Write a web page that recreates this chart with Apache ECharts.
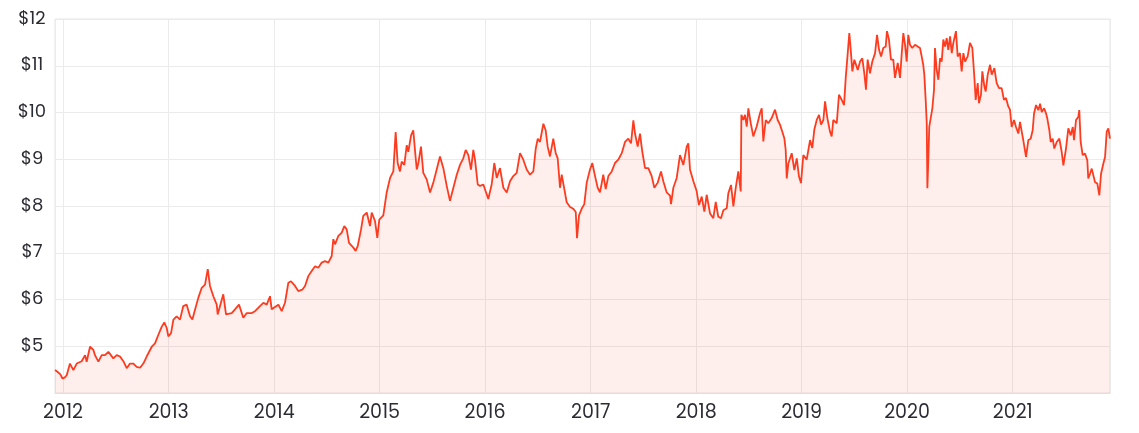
<!DOCTYPE html>
<html><head><meta charset="utf-8">
<script src="https://cdn.jsdelivr.net/npm/echarts@6/dist/echarts.min.js"></script>
<style>html,body{margin:0;padding:0;background:#fff}#c{width:1139px;height:433px}</style>
</head><body><div id="c"></div>
<script>
// observation times as decimal years
const years = [
2011.924,2011.950,2011.975,2011.995,2012.015,2012.035,2012.050,2012.066,2012.098,2012.130,
2012.177,2012.209,2012.224,2012.256,2012.288,2012.303,2012.335,2012.367,2012.398,2012.430,
2012.446,2012.477,2012.509,2012.540,2012.572,2012.604,2012.635,2012.667,2012.698,2012.730,
2012.761,2012.793,2012.841,2012.872,2012.903,2012.936,2012.960,2012.983,2012.998,2013.024,
2013.046,2013.077,2013.109,2013.140,2013.172,2013.204,2013.226,2013.251,2013.283,2013.315,
2013.346,2013.372,2013.393,2013.425,2013.457,2013.466,2013.519,2013.545,2013.599,2013.630,
2013.668,2013.709,2013.741,2013.789,2013.820,2013.867,2013.899,2013.931,2013.962,2013.978,
2014.041,2014.073,2014.104,2014.136,2014.161,2014.199,2014.230,2014.268,2014.294,2014.325,
2014.357,2014.389,2014.420,2014.452,2014.483,2014.515,2014.547,2014.562,2014.578,2014.610,
2014.642,2014.666,2014.689,2014.711,2014.752,2014.774,2014.793,2014.825,2014.846,2014.879,
2014.910,2014.926,2014.957,2014.979,2014.998,
2015.036,2015.068,2015.100,2015.116,2015.131,2015.153,2015.172,2015.194,2015.210,2015.235,
2015.258,2015.273,2015.299,2015.320,2015.336,2015.353,2015.368,2015.393,2015.415,2015.447,
2015.479,2015.510,2015.542,2015.573,2015.605,2015.637,2015.668,2015.700,2015.732,2015.763,
2015.794,2015.817,2015.842,2015.867,2015.889,2015.905,2015.931,2015.953,2015.984,2016.016,
2016.031,2016.063,2016.088,2016.111,2016.142,2016.174,2016.206,2016.237,2016.268,2016.300,
2016.332,2016.363,2016.395,2016.427,2016.458,2016.481,2016.500,
2016.521,2016.553,2016.575,2016.594,2016.616,2016.647,2016.670,2016.689,2016.711,2016.727,
2016.752,2016.774,2016.806,2016.837,2016.860,2016.872,2016.891,2016.916,2016.941,2016.964,
2016.995,2017.017,2017.043,2017.068,2017.090,2017.121,2017.144,2017.169,2017.201,2017.232,
2017.263,2017.296,2017.327,2017.358,2017.384,2017.406,2017.422,2017.447,2017.469,2017.491,
2017.517,2017.548,2017.580,2017.605,2017.637,2017.668,2017.690,2017.722,2017.754,2017.763,
2017.785,2017.817,2017.848,2017.880,2017.912,2017.927,2017.943,2017.975,2018.006,
2018.028,2018.054,2018.079,2018.101,2018.133,2018.164,2018.187,2018.211,2018.237,2018.259,
2018.291,2018.306,2018.332,2018.354,2018.376,2018.401,2018.424,2018.430,2018.448,2018.464,
2018.481,2018.496,2018.519,2018.543,2018.575,2018.607,2018.623,2018.638,2018.661,2018.685,
2018.717,2018.749,2018.774,2018.796,2018.818,2018.837,2018.850,2018.860,2018.875,2018.907,
2018.932,2018.955,2018.976,2018.995,2019.017,2019.049,2019.081,2019.102,2019.121,2019.144,
2019.166,2019.185,2019.207,2019.223,2019.245,2019.270,2019.286,2019.301,2019.334,2019.355,
2019.381,2019.403,2019.419,2019.438,2019.453,2019.469,2019.482,2019.501,
2019.533,2019.555,2019.576,2019.595,2019.611,2019.627,2019.649,2019.671,2019.697,2019.716,
2019.735,2019.754,2019.775,2019.798,2019.810,2019.829,2019.848,2019.870,2019.886,2019.912,
2019.934,2019.950,2019.965,2019.981,2019.997,2020.012,2020.028,2020.050,2020.076,2020.101,
2020.123,2020.139,2020.154,2020.164,2020.177,2020.187,2020.193,2020.202,2020.211,2020.227,
2020.240,2020.256,2020.265,2020.281,2020.297,2020.313,2020.329,2020.344,2020.360,2020.376,
2020.391,2020.408,2020.424,2020.439,2020.464,2020.480,2020.502,2020.518,2020.534,2020.550,
2020.575,2020.597,2020.619,2020.638,2020.651,2020.670,2020.682,2020.701,2020.714,2020.733,
2020.746,2020.765,2020.787,2020.803,2020.828,2020.850,2020.872,2020.897,2020.919,2020.938,
2020.960,2020.976,
2020.992,2021.014,2021.033,2021.055,2021.071,2021.087,2021.102,2021.128,2021.150,2021.172,
2021.191,2021.204,2021.223,2021.245,2021.261,2021.277,2021.299,2021.318,2021.330,2021.349,
2021.362,2021.381,2021.396,2021.419,2021.444,2021.466,2021.482,2021.507,2021.529,2021.552,
2021.571,2021.583,2021.602,2021.624,2021.633,2021.646,2021.665,2021.687,2021.709,2021.718,
2021.735,2021.751,2021.766,2021.782,2021.804,2021.823,2021.839,2021.861,2021.877,2021.893,
2021.908,2021.924
];
// share price, $
const prices = [
4.49,4.45,4.40,4.31,4.33,4.38,4.42,4.63,4.49,4.63,
4.68,4.81,4.67,4.99,4.92,4.81,4.67,4.81,4.81,4.88,
4.92,4.74,4.81,4.78,4.68,4.53,4.63,4.63,4.56,4.54,
4.63,4.78,4.99,5.06,5.24,5.42,5.51,5.39,5.21,5.28,
5.57,5.64,5.57,5.86,5.89,5.64,5.57,5.78,6.04,6.25,
6.32,6.65,6.29,6.07,5.89,5.68,6.11,5.68,5.71,5.79,
5.89,5.61,5.71,5.71,5.75,5.86,5.93,5.89,6.07,5.79,
5.89,5.75,5.93,6.36,6.39,6.29,6.18,6.21,6.29,6.50,
6.61,6.71,6.68,6.79,6.82,6.79,6.93,7.29,7.18,7.36,
7.43,7.57,7.50,7.21,7.11,7.04,7.14,7.50,7.79,7.86,
7.57,7.86,7.68,7.32,7.71,
7.80,8.29,8.60,8.57,8.74,9.58,8.92,8.74,8.95,8.88,
9.30,9.16,9.51,9.62,9.20,8.78,8.92,9.27,8.71,8.57,
8.29,8.50,8.78,9.06,8.81,8.43,8.11,8.39,8.67,8.88,
9.02,9.20,9.09,8.78,9.20,8.99,8.46,8.43,8.46,8.25,
8.15,8.46,8.92,8.60,8.81,8.39,8.29,8.53,8.64,8.71,
9.13,8.99,8.78,8.67,8.74,9.23,9.44,
9.37,9.76,9.62,9.27,9.06,9.44,9.13,9.02,8.39,8.67,
8.36,8.08,7.98,7.94,7.87,7.31,7.80,7.94,8.04,8.50,
8.78,8.92,8.64,8.39,8.29,8.67,8.36,8.64,8.74,8.92,
8.99,9.13,9.37,9.44,9.34,9.83,9.55,9.27,9.55,9.16,
8.81,8.81,8.64,8.39,8.50,8.74,8.53,8.29,8.22,8.04,
8.39,8.60,9.09,8.88,9.27,9.34,8.78,8.53,8.32,
8.02,8.20,7.88,8.24,7.84,7.74,8.09,7.77,7.74,7.91,
7.95,8.27,8.45,7.99,8.38,8.74,8.31,9.95,9.84,9.95,
9.70,10.09,9.77,9.49,9.70,9.99,10.09,9.38,9.84,9.77,
9.88,10.06,9.84,9.74,9.59,9.45,9.20,8.59,8.91,9.13,
8.77,9.02,8.63,8.49,9.09,8.99,9.41,9.24,9.63,9.84,
9.95,9.74,9.84,10.24,9.88,9.59,9.49,9.84,9.77,10.38,
10.27,10.16,10.74,11.27,11.70,11.27,10.88,11.13,
10.91,11.09,11.16,10.84,10.49,11.13,10.84,11.09,11.27,11.66,
11.34,11.20,11.38,11.41,11.74,11.56,11.13,11.13,10.74,11.06,
10.74,11.27,11.70,11.45,11.09,11.66,11.45,11.38,11.45,11.41,
11.38,11.20,11.02,10.81,10.27,9.77,8.38,8.99,9.70,9.70,
10.09,10.49,11.38,10.91,10.70,11.16,11.09,11.56,11.41,11.59,
11.34,11.63,11.27,11.49,11.74,11.20,11.27,10.88,11.27,11.09,
11.20,11.49,11.38,10.77,10.27,10.63,10.20,10.38,10.88,10.56,
10.45,10.81,11.02,10.81,10.95,10.63,10.52,10.52,10.27,10.31,
10.13,10.06,
9.69,9.84,9.69,9.55,9.80,9.84,9.41,9.05,9.41,9.44,
9.62,9.98,10.16,10.05,10.19,10.01,10.09,9.98,9.87,9.62,
9.37,9.44,9.23,9.37,9.44,9.16,8.87,9.23,9.66,9.51,
9.69,9.41,9.84,9.91,10.05,9.37,9.09,9.12,8.98,8.59,
8.69,8.80,8.66,8.51,8.48,8.23,8.69,8.91,9.05,9.59,
9.66,9.44
];
const yMin = 4, yMax = 12, yStep = 1;

const toTime = y => Date.UTC(2012, 0, 1) + (y - 2012) * 365.25 * 864e5;
const seriesData = years.map((y, i) => [toTime(y), prices[i]]);

const chart = echarts.init(document.getElementById('c'), null, {renderer: 'canvas'});
const FONT = 'Poppins, Inter, "Noto Sans", sans-serif';
chart.setOption({
  animation: false,
  backgroundColor: '#ffffff',
  grid: {left: 55, right: 29, top: 19, bottom: 40, show: true, borderColor: '#e6e6e6', borderWidth: 1, containLabel: false},
  xAxis: {
    type: 'time',
    min: toTime(years[0]),
    max: toTime(years[years.length - 1]),
    splitNumber: 10,
    axisLine: {show: true, lineStyle: {color: '#e6dcdc'}},
    axisTick: {show: false},
    splitLine: {show: true, lineStyle: {color: '#ebebeb', width: 1}},
    axisLabel: {
      formatter: '{yyyy}', color: '#2b2b33', fontSize: 19, fontFamily: FONT, margin: 11,
      showMinLabel: false, showMaxLabel: false, hideOverlap: false
    }
  },
  yAxis: {
    type: 'value', min: yMin, max: yMax, interval: yStep,
    axisLine: {show: false}, axisTick: {show: false},
    splitLine: {show: true, lineStyle: {color: '#ebebeb', width: 1}},
    axisLabel: {
      formatter: v => v === yMin ? '' : '$' + v,
      color: '#2b2b33', fontSize: 18, fontFamily: FONT, align: 'center', margin: 23
    }
  },
  series: [{
    type: 'line',
    data: seriesData,
    showSymbol: false,
    symbol: 'none',
    lineStyle: {color: '#fc3c20', width: 1.8},
    itemStyle: {color: '#fc3c20'},
    areaStyle: {color: 'rgba(247, 60, 40, 0.12)', origin: 'start'}
  }]
});
</script>
</body></html>
